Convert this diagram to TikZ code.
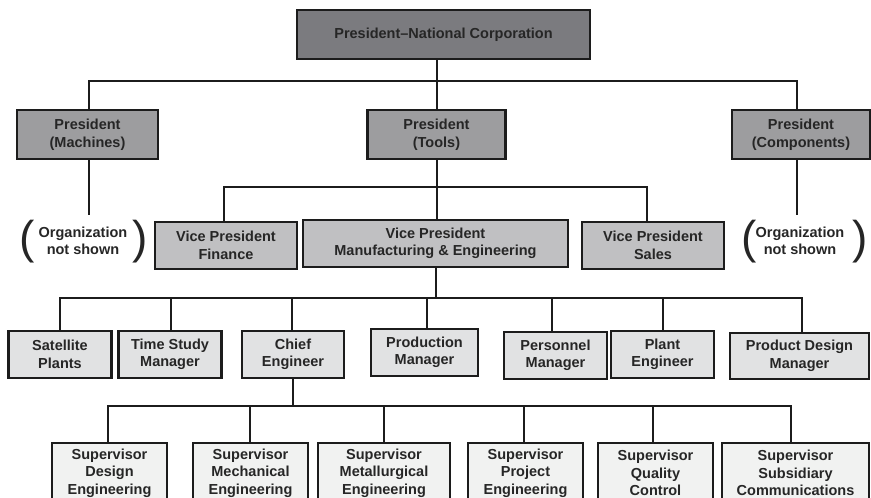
\documentclass[tikz,border=0pt]{standalone}
\usepackage{fontspec}
\setmainfont{Liberation Sans}
\definecolor{linec}{HTML}{1C1C1C}
\definecolor{txtc}{HTML}{262626}
\definecolor{fillA}{HTML}{7B7B7F}
\definecolor{fillB}{HTML}{9D9D9F}
\definecolor{fillC}{HTML}{C0C0C2}
\definecolor{fillD}{HTML}{E1E2E3}
\definecolor{fillE}{HTML}{F1F2F1}
\begin{document}
\begin{tikzpicture}[x=1pt,y=-1pt,
  box/.style={draw=linec, line width=2.3pt, inner sep=0pt, align=center,
    text=txtc, font=\fontsize{14.5}{17.5}\selectfont\bfseries},
  lvA/.style={box, fill=fillA},
  lvB/.style={box, fill=fillB},
  lvC/.style={box, fill=fillC},
  lvD/.style={box, fill=fillD},
  lvE/.style={box, fill=fillE},
  link/.style={draw=linec, line width=2pt, line join=miter},
  note/.style={align=center, inner sep=0pt, text=txtc,
    font=\fontsize{14.5}{17.5}\selectfont\bfseries},
  paren/.style={anchor=base, inner sep=0pt, text=txtc,
    font=\fontsize{46}{46}\selectfont}]
\useasboundingbox (0,0) rectangle (871,498);

% bus levels
\coordinate (b0) at (0,81);
\coordinate (b1) at (0,187);
\coordinate (b2) at (0,298);
\coordinate (b3) at (0,406);
\coordinate (stub) at (0,215);

% top
\node[lvA, minimum width=293pt, minimum height=49pt] (ceo) at (443.5,34.5) {President--National Corporation};

% presidents
\node[lvB, minimum width=141pt, minimum height=49pt] (mach) at (87.5,134.5) {President\\(Machines)};
\node[lvB, minimum width=138pt, minimum height=49pt] (tools) at (436.5,134.5) {President\\(Tools)};
\node[lvB, minimum width=138pt, minimum height=49pt] (comp) at (801,134.5) {President\\(Components)};

% vice presidents
\node[lvC, minimum width=142pt, minimum height=47pt] (fin) at (226,245.5) {Vice President\\Finance};
\node[lvC, minimum width=265pt, minimum height=47pt] (mfg) at (435.5,243.5) {Vice President\\Manufacturing \& Engineering};
\node[lvC, minimum width=142pt, minimum height=47pt] (sales) at (653,245.5) {Vice President\\Sales};

% organization not shown
\node[note] (orgL) at (83,241) {Organization\\not shown};
\node[paren] (orgLa) at (27.5,253) {(};
\node[paren] (orgLb) at (140,253) {)};
\node[note] (orgR) at (800,241) {Organization\\not shown};
\node[paren] (orgRa) at (749.5,253) {(};
\node[paren] (orgRb) at (860,253) {)};

% managers
\node[lvD, minimum width=103pt, minimum height=47pt] (sat) at (60,354.5) {Satellite\\Plants};
\node[lvD, minimum width=103pt, minimum height=47pt] (time) at (170,354.5) {Time Study\\Manager};
\node[lvD, minimum width=102pt, minimum height=47pt] (chief) at (293,354.5) {Chief\\Engineer};
\node[lvD, minimum width=107pt, minimum height=47pt] (prod) at (424.5,352.5) {Production\\Manager};
\node[lvD, minimum width=103pt, minimum height=47pt] (pers) at (555.5,355.5) {Personnel\\Manager};
\node[lvD, minimum width=103pt, minimum height=47pt] (plant) at (662.5,354.5) {Plant\\Engineer};
\node[lvD, minimum width=139pt, minimum height=46pt] (pdm) at (799.5,356) {Product Design\\Manager};

% supervisors
\node[lvE, minimum width=115pt, minimum height=60pt] (sdes) at (109.5,473) {Supervisor\\Design\\Engineering};
\node[lvE, minimum width=115pt, minimum height=60pt] (smech) at (250.5,473) {Supervisor\\Mechanical\\Engineering};
\node[lvE, minimum width=132pt, minimum height=60pt] (smet) at (384,473) {Supervisor\\Metallurgical\\Engineering};
\node[lvE, minimum width=115pt, minimum height=60pt] (sproj) at (525.5,473) {Supervisor\\Project\\Engineering};
\node[lvE, minimum width=115pt, minimum height=60pt] (squal) at (655.5,473) {Supervisor\\Quality\\Control};
\node[lvE, minimum width=147pt, minimum height=60pt] (ssub) at (795.5,473) {Supervisor\\Subsidiary\\Communications};

% connectors: president level
\draw[link] (ceo.south -| tools.north) -- (tools.north);
\draw[link] ([xshift=1.5pt]mach.north) -- ([xshift=1.5pt]mach.north |- b0)
  -- ([xshift=-4pt]comp.north |- b0) -- ([xshift=-4pt]comp.north);
\draw[link] ([xshift=1.5pt]mach.south) -- ([xshift=1.5pt]mach.south |- stub);
\draw[link] ([xshift=-4pt]comp.south) -- ([xshift=-4pt]comp.south |- stub);

% connectors: vice president level
\draw[link] (tools.south) -- (tools.south |- mfg.north);
\draw[link] ([xshift=-2pt]fin.north) -- ([xshift=-2pt]fin.north |- b1)
  -- ([xshift=-6pt]sales.north |- b1) -- ([xshift=-6pt]sales.north);

% connectors: manager level
\draw[link] (mfg.south) -- (mfg.south |- b2);
\draw[link] (sat.north) -- (sat.north |- b2) -- ([xshift=2pt]pdm.north |- b2) -- ([xshift=2pt]pdm.north);
\foreach \n/\s in {time/1, chief/-1, prod/2.5, pers/-3.5, plant/0.5}
  \draw[link] ([xshift=\s pt]\n.north) -- ([xshift=\s pt]\n.north |- b2);

% connectors: supervisor level
\draw[link] (chief.south) -- (chief.south |- b3);
\draw[link] ([xshift=-1.5pt]sdes.north) -- ([xshift=-1.5pt]sdes.north |- b3)
  -- ([xshift=-4.5pt]ssub.north |- b3) -- ([xshift=-4.5pt]ssub.north);
\foreach \n/\s in {smech/-0.5, smet/0, sproj/-1.5, squal/-2.5}
  \draw[link] ([xshift=\s pt]\n.north) -- ([xshift=\s pt]\n.north |- b3);
\end{tikzpicture}
\end{document}
